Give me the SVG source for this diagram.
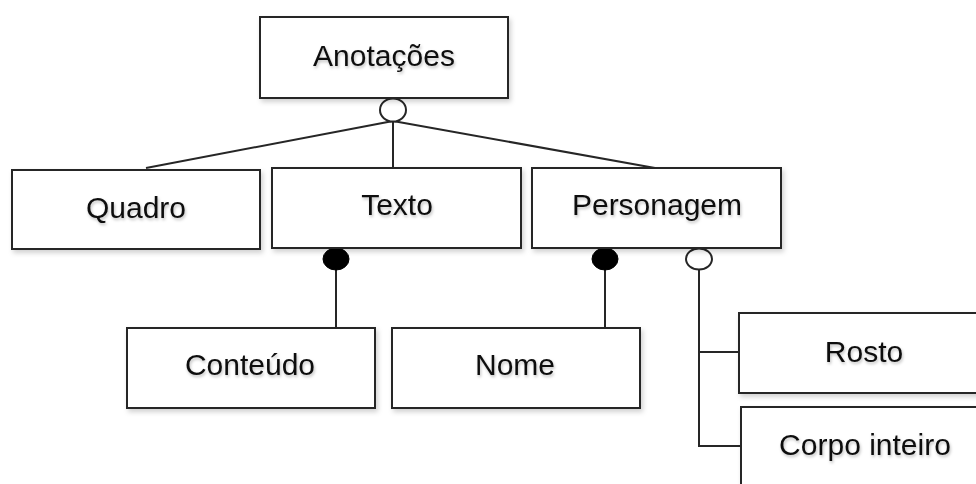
<svg xmlns="http://www.w3.org/2000/svg" width="976" height="484" viewBox="0 0 976 484">
<style>
.box{fill:#fff;stroke:#262626;stroke-width:2;filter:url(#sh)}
.lbl{font-family:"Liberation Sans",Arial,sans-serif;font-size:30px;fill:#111;text-anchor:middle;filter:url(#tsh)}
.ln{stroke:#262626;stroke-width:2;fill:none}
.open{fill:#fff;stroke:#262626;stroke-width:2}
.fill{fill:#000;stroke:#000;stroke-width:1}
</style>
<defs>
<filter id="sh" x="-10%" y="-10%" width="130%" height="140%">
<feDropShadow dx="2" dy="3" stdDeviation="2.5" flood-color="#000" flood-opacity="0.18"/>
</filter>
<filter id="tsh" x="-10%" y="-20%" width="130%" height="160%">
<feDropShadow dx="1" dy="2" stdDeviation="1.5" flood-color="#000" flood-opacity="0.25"/>
</filter>
</defs>
<rect width="976" height="484" fill="#fff"/>
<g id="connectors">
<line class="ln" x1="393" y1="121" x2="146" y2="168"/>
<line class="ln" x1="393" y1="121" x2="393" y2="168"/>
<line class="ln" x1="393" y1="121" x2="655" y2="168"/>
<line class="ln" x1="336" y1="262" x2="336" y2="328"/>
<line class="ln" x1="605" y1="262" x2="605" y2="328"/>
<polyline class="ln" points="699,269 699,446 741,446"/>
<line class="ln" x1="699" y1="352" x2="739" y2="352"/>
<ellipse class="open" cx="393" cy="110" rx="13" ry="11.5"/>
<ellipse class="fill" cx="336" cy="259" rx="13" ry="11"/>
<ellipse class="fill" cx="605" cy="259" rx="13" ry="11"/>
<ellipse class="open" cx="699" cy="259" rx="13" ry="10.5"/>
</g>
<g id="anotacoes"><rect class="box" x="260" y="17" width="248" height="81"/><text class="lbl" x="384" y="66">Anotações</text></g>
<g id="quadro"><rect class="box" x="12" y="170" width="248" height="79"/><text class="lbl" x="136" y="218">Quadro</text></g>
<g id="texto"><rect class="box" x="272" y="168" width="249" height="80"/><text class="lbl" x="397" y="215">Texto</text></g>
<g id="personagem"><rect class="box" x="532" y="168" width="249" height="80"/><text class="lbl" x="657" y="215">Personagem</text></g>
<g id="conteudo"><rect class="box" x="127" y="328" width="248" height="80"/><text class="lbl" x="250" y="375">Conteúdo</text></g>
<g id="nome"><rect class="box" x="392" y="328" width="248" height="80"/><text class="lbl" x="515" y="375">Nome</text></g>
<g id="rosto"><rect class="box" x="739" y="313" width="260" height="80"/><text class="lbl" x="864" y="362">Rosto</text></g>
<g id="corpo"><rect class="box" x="741" y="407" width="260" height="100"/><text class="lbl" x="865" y="455">Corpo inteiro</text></g>
</svg>
